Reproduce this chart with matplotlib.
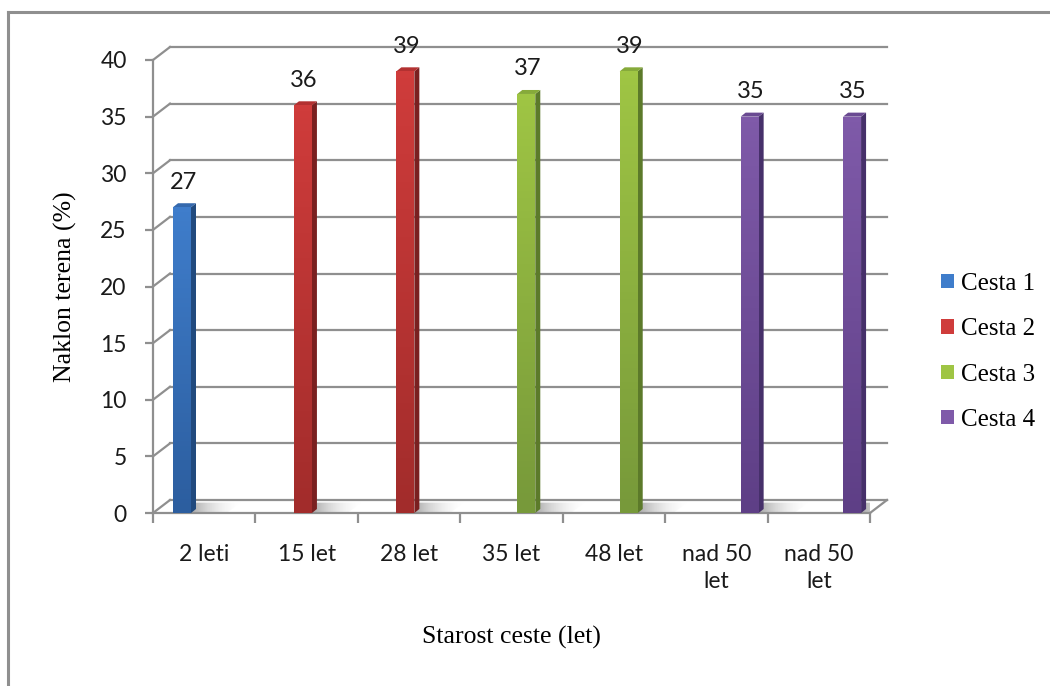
import numpy as np
import matplotlib
matplotlib.use('Agg')
import matplotlib.pyplot as plt
from matplotlib.patches import Polygon
from matplotlib.lines import Line2D
from matplotlib.colors import LinearSegmentedColormap

categories = ['2 leti', '15 let', '28 let', '35 let', '48 let', 'nad 50\nlet', 'nad 50\nlet']
series_names = ['Cesta 1', 'Cesta 2', 'Cesta 3', 'Cesta 4']
nan = np.nan
cesta_1 = [27, nan, nan, nan, nan, nan, nan]
cesta_2 = [nan, 36, 39, nan, nan, nan, nan]
cesta_3 = [nan, nan, nan, 37, 39, nan, nan]
cesta_4 = [nan, nan, nan, nan, nan, 35, 35]
yticks = [0, 5, 10, 15, 20, 25, 30, 35, 40]

# front face top/bottom, side face, top face
face_top = ['#3f7dcb', '#cf3c3b', '#9fc544', '#7f5aa9']
face_bot = ['#2c5e9f', '#a22c2b', '#77993a', '#5e3f86']
side_col = ['#214a7e', '#7a2020', '#5c7a2a', '#46306a']
cap_col = ['#3569ad', '#b33131', '#86aa3a', '#6a4a92']

W, H = 1050, 686
fig = plt.figure(figsize=(W / 100, H / 100), dpi=100)
ax_l, ax_b, ax_w, ax_h = 153, 513, 717, 453
ax = fig.add_axes([ax_l / W, 1 - ax_b / H, ax_w / W, ax_h / H])
ncat = len(categories)
ax.set_xlim(0, ncat)
ax.set_ylim(0, 40)
ax.patch.set_alpha(0)


def px(dx, dy):
    return dx * ncat / ax_w, dy * 40 / ax_h


grey = '#8f8f8f'
wx, wy = px(17, 13)   # depth of the back wall
bx, by = px(5, 4)     # depth of a column

# back wall gridlines and left wall connectors
for v in yticks:
    ax.plot([wx, ncat + wx], [v + wy, v + wy], color=grey, lw=1.6, clip_on=False, zorder=1)
    ax.plot([0, wx], [v, v + wy], color=grey, lw=1.6, clip_on=False, zorder=1)
ax.plot([ncat, ncat + wx], [0, wy], color=grey, lw=1.6, clip_on=False, zorder=1)

# floor shadows next to the columns
shadow = LinearSegmentedColormap.from_list('sh', [(0.45, 0.45, 0.45, 0.6), (1, 1, 1, 0)])

bw = 18 / (ax_w / ncat)
handles = []
for k, vals in enumerate([cesta_1, cesta_2, cesta_3, cesta_4]):
    vals = np.array(vals, dtype=float)
    x = np.arange(ncat) + (20 + 18.5 * k) / (ax_w / ncat)
    m = ~np.isnan(vals)
    bars = ax.bar(x[m], vals[m], width=bw, align='edge', color=face_bot[k],
                  label=series_names[k], zorder=4, linewidth=0)
    handles.append(bars)
    cmap = LinearSegmentedColormap.from_list('g%d' % k, [face_bot[k], face_top[k]])
    for rect, h in zip(bars, vals[m]):
        x0 = rect.get_x()
        x1 = x0 + rect.get_width()
        grad = np.linspace(0, 1, 64).reshape(-1, 1)
        im = ax.imshow(grad, extent=[x0, x1, 0, h], origin='lower', aspect='auto',
                       cmap=cmap, zorder=4.1)
        im.set_clip_path(rect)
        ax.add_patch(Polygon([(x1, 0), (x1 + bx, by), (x1 + bx, h + by), (x1, h)],
                             closed=True, color=side_col[k], lw=0, zorder=4, clip_on=False))
        ax.add_patch(Polygon([(x0, h), (x1, h), (x1 + bx, h + by), (x0 + bx, h + by)],
                             closed=True, color=cap_col[k], lw=0, zorder=4, clip_on=False))
        sp = Polygon([(x1, 0), (x1 + 0.35, 0), (x1 + 0.35 + wx * 0.8, wy * 0.8), (x1 + bx, wy * 0.8)],
                     closed=True, color='none', lw=0, clip_on=False)
        ax.add_patch(sp)
        sg = np.linspace(0, 1, 64).reshape(1, -1)
        im2 = ax.imshow(sg, extent=[x1, x1 + 0.35 + wx, 0, wy], aspect='auto', cmap=shadow, zorder=2)
        im2.set_clip_path(sp)
        ax.annotate('%d' % h, (x0 + (x1 - x0) / 2 + 0.01, h), xytext=(0, 25),
                    textcoords='offset pixels', ha='center', va='center',
                    fontsize=17, family='Lato', color='#1a1a1a')

ax.set_xlim(0, ncat)
ax.set_ylim(0, 40)

for s in ['top', 'right']:
    ax.spines[s].set_visible(False)
for s in ['left', 'bottom']:
    ax.spines[s].set_color(grey)
    ax.spines[s].set_linewidth(1.6)
    ax.spines[s].set_zorder(3)

ax.set_yticks(yticks)
ax.tick_params(axis='y', length=6, width=1.6, color=grey, pad=13,
               labelsize=16.5, labelcolor='#1a1a1a')
ax.set_xticks(np.arange(ncat) + 0.5)
ax.set_xticklabels(categories, linespacing=1.4)
ax.set_xticks(np.arange(ncat + 1), minor=True)
ax.tick_params(axis='x', which='major', length=0, pad=22, labelsize=16.5, labelcolor='#1a1a1a')
ax.tick_params(axis='x', which='minor', length=7, width=1.6, color=grey)
for lab in ax.get_xticklabels() + ax.get_yticklabels():
    lab.set_family('Lato')

fig.text(65 / W, 1 - 287 / H, 'Naklon terena (%)', rotation=90, ha='center', va='center',
         family='Liberation Serif', fontsize=18.5, color='black')
fig.text(511 / W, 1 - 637 / H, 'Starost ceste (let)', ha='center', va='center',
         family='Liberation Serif', fontsize=18.5, color='black')

leg = ax.legend(handles=handles, loc='center left', bbox_to_anchor=(941 / W, 1 - 352 / H),
                bbox_transform=fig.transFigure, frameon=False, borderpad=0, borderaxespad=0,
                handlelength=0.5, handleheight=0.5, handletextpad=0.3, labelspacing=0.93,
                prop={'family': 'Liberation Serif', 'size': 18})
for hnd, c in zip(leg.legend_handles, face_top):
    hnd.set_facecolor(c)

# chart frame
fig.add_artist(Line2D([7.5 / W, 7.5 / W], [0, 1 - 11.5 / H], color=grey, lw=2.2))
fig.add_artist(Line2D([7.5 / W, 1], [1 - 11.5 / H, 1 - 11.5 / H], color=grey, lw=2.2))

fig.savefig('out.png', dpi=100)
